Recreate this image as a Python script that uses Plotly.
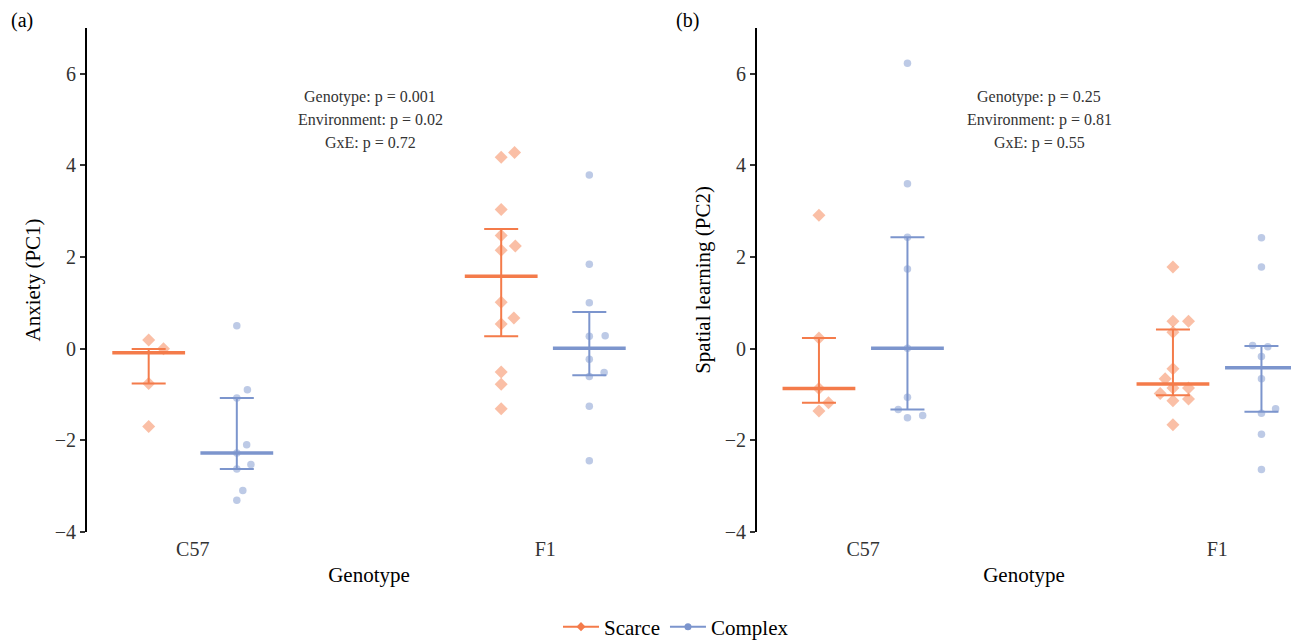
import plotly.graph_objects as go

# the captured viewport is slightly taller than 642 and gets resized to 642,
# so the figure fills that height; paper fractions are based on the 642 reference.
W, H = 1291, 654
REF_H = 642

genotypes = ["C57", "F1"]
groups = ["Scarce", "Complex"]

# ---- Panel (a): Anxiety (PC1) ----
a_scarce_c57 = [0.19, 0.00, -0.76, -1.70]
a_scarce_c57_jit = [0.0, 0.042, 0.0, 0.0]
a_complex_c57 = [0.50, -0.90, -1.08, -2.10, -2.28, -2.53, -2.63, -3.10, -3.31]
a_complex_c57_jit = [0.0, 0.03, 0.0, 0.028, 0.0, 0.04, 0.0, 0.017, 0.0]
a_scarce_f1 = [4.18, 4.28, 3.04, 2.47, 2.24, 2.15, 1.01, 0.67, 0.54, -0.51, -0.78, -1.31]
a_scarce_f1_jit = [0.0, 0.038, 0.0, 0.0, 0.04, 0.0, 0.0, 0.036, 0.0, 0.0, 0.0, 0.0]
a_complex_f1 = [3.79, 1.84, 1.00, 0.27, 0.28, -0.23, -0.52, -0.61, -1.26, -2.45]
a_complex_f1_jit = [0.0, 0.0, 0.0, 0.0, 0.045, 0.0, 0.042, 0.0, 0.0, 0.0]
a_center = {"Scarce": [-0.09, 1.58], "Complex": [-2.28, 0.01]}
a_upper = {"Scarce": [-0.01, 2.61], "Complex": [-1.08, 0.80]}
a_lower = {"Scarce": [-0.76, 0.27], "Complex": [-2.63, -0.58]}
a_stats = ["Genotype: p = 0.001", "Environment: p = 0.02", "GxE: p = 0.72"]

# ---- Panel (b): Spatial learning (PC2) ----
b_scarce_c57 = [2.91, 0.23, -0.87, -1.18, -1.36]
b_scarce_c57_jit = [0.0, 0.0, 0.0, 0.027, 0.0]
b_complex_c57 = [6.23, 3.60, 2.43, 1.74, 0.01, -1.06, -1.33, -1.46, -1.51]
b_complex_c57_jit = [0.0, 0.0, 0.0, 0.0, 0.0, 0.0, -0.026, 0.043, 0.0]
b_scarce_f1 = [1.78, 0.60, 0.60, 0.36, -0.44, -0.66, -0.86, -0.86, -0.98, -1.14, -1.10, -1.66]
b_scarce_f1_jit = [0.0, 0.0, 0.044, 0.0, 0.0, -0.022, 0.0, 0.044, -0.036, 0.0, 0.044, 0.0]
b_complex_f1 = [2.42, 1.78, 0.07, 0.04, -0.17, -0.66, -1.31, -1.41, -1.87, -2.64]
b_complex_f1_jit = [0.0, 0.0, -0.025, 0.018, 0.0, 0.0, 0.04, 0.0, 0.0, 0.0]
b_center = {"Scarce": [-0.87, -0.77], "Complex": [0.01, -0.42]}
b_upper = {"Scarce": [0.23, 0.42], "Complex": [2.43, 0.06]}
b_lower = {"Scarce": [-1.18, -1.02], "Complex": [-1.33, -1.38]}
b_stats = ["Genotype: p = 0.25", "Environment: p = 0.81", "GxE: p = 0.55"]

y_ticks = [-4, -2, 0, 2, 4, 6]

FONT = "Liberation Serif"
col_line = {"Scarce": "#F47B4A", "Complex": "#7C95CD"}
col_pt = {"Scarce": "rgba(246,128,78,0.5)", "Complex": "rgba(124,149,205,0.5)"}
symb = {"Scarce": "diamond", "Complex": "circle"}
psize = {"Scarce": 10, "Complex": 7.5}
dodge = {"Scarce": -0.125, "Complex": 0.125}

fig = go.Figure()


def px2x(p):
    return p / W


def px2y(p):
    return 1 - p / REF_H


panels = [
    dict(xa="x", ya="y", pts={("Scarce", 0): (a_scarce_c57, a_scarce_c57_jit),
                              ("Complex", 0): (a_complex_c57, a_complex_c57_jit),
                              ("Scarce", 1): (a_scarce_f1, a_scarce_f1_jit),
                              ("Complex", 1): (a_complex_f1, a_complex_f1_jit)},
         center=a_center, upper=a_upper, lower=a_lower),
    dict(xa="x2", ya="y2", pts={("Scarce", 0): (b_scarce_c57, b_scarce_c57_jit),
                                ("Complex", 0): (b_complex_c57, b_complex_c57_jit),
                                ("Scarce", 1): (b_scarce_f1, b_scarce_f1_jit),
                                ("Complex", 1): (b_complex_f1, b_complex_f1_jit)},
         center=b_center, upper=b_upper, lower=b_lower),
]

for p in panels:
    for g in groups:
        xs, ys = [], []
        for gi in range(len(genotypes)):
            vals, jit = p["pts"][(g, gi)]
            for v, j in zip(vals, jit):
                xs.append(gi + 1 + dodge[g] + j)
                ys.append(v)
        fig.add_trace(go.Scatter(x=xs, y=ys, mode="markers", xaxis=p["xa"], yaxis=p["ya"],
                                 marker=dict(symbol=symb[g], size=psize[g], color=col_pt[g],
                                             line=dict(width=0)),
                                 showlegend=False, hoverinfo="skip", cliponaxis=False))
        cx = [gi + 1 + dodge[g] for gi in range(len(genotypes))]
        c = p["center"][g]
        up = [u - m for u, m in zip(p["upper"][g], c)]
        lo = [m - l for l, m in zip(p["lower"][g], c)]
        fig.add_trace(go.Scatter(x=cx, y=c, mode="markers", xaxis=p["xa"], yaxis=p["ya"],
                                 marker=dict(symbol="line-ew-open", size=52,
                                             line=dict(width=3.5, color=col_line[g]),
                                             color=col_line[g]),
                                 error_y=dict(type="data", symmetric=False, array=up, arrayminus=lo,
                                              color=col_line[g], thickness=2, width=17),
                                 showlegend=False, hoverinfo="skip", cliponaxis=False))

for g in groups:
    fig.add_trace(go.Scatter(x=[None], y=[None], mode="lines+markers", name=g,
                             line=dict(color=col_line[g], width=2),
                             marker=dict(symbol=symb[g], size=7, color=col_line[g])))

TICKSZ = 20
TITLESZ = 21
y_dom = [px2y(531), px2y(28)]
common_y = dict(range=[-4, 7], tickvals=y_ticks,
                ticktext=[("−" + str(-t)) if t < 0 else str(t) for t in y_ticks],
                showline=True, linecolor="black", linewidth=2, ticks="outside", ticklen=5,
                tickwidth=1.5, tickcolor="#333333", showgrid=False, zeroline=False,
                tickfont=dict(family=FONT, size=TICKSZ, color="#333333"),
                domain=y_dom)
common_x = dict(tickvals=[1, 2], ticktext=genotypes, showline=False, showgrid=False, zeroline=False,
                ticks="", ticklabelstandoff=3, tickfont=dict(family=FONT, size=TICKSZ, color="#333333"),
                title=dict(text="Genotype", font=dict(family=FONT, size=TITLESZ, color="black"),
                           standoff=8))

fig.update_layout(
    width=W, height=H, margin=dict(l=0, r=0, t=0, b=0),
    plot_bgcolor="white", paper_bgcolor="white",
    font=dict(family=FONT, color="black"),
    xaxis=dict(domain=[px2x(87), px2x(651)], range=[0.7, 2.3], anchor="y", **common_x),
    xaxis2=dict(domain=[px2x(757), 1.0], range=[0.7, 0.7 + (1291 - 757) / 354.0],
                anchor="y2", **common_x),
    yaxis=dict(anchor="x", title=dict(text="Anxiety (PC1)", standoff=8,
                                      font=dict(family=FONT, size=TITLESZ, color="black")),
               **common_y),
    yaxis2=dict(anchor="x2", title=dict(text="Spatial learning (PC2)", standoff=8,
                                        font=dict(family=FONT, size=TITLESZ, color="black")),
                **common_y),
    legend=dict(orientation="h", x=px2x(676), xanchor="center", y=px2y(626), yanchor="middle",
                font=dict(family=FONT, size=21, color="black"), itemwidth=36),
)

for i, t in enumerate(a_stats):
    fig.add_annotation(x=px2x(370), y=px2y(97 + 23 * i), xref="paper", yref="paper", text=t,
                       showarrow=False, xanchor="center", yanchor="middle",
                       font=dict(family=FONT, size=16, color="#333333"))
for i, t in enumerate(b_stats):
    fig.add_annotation(x=px2x(1039), y=px2y(97 + 23 * i), xref="paper", yref="paper", text=t,
                       showarrow=False, xanchor="center", yanchor="middle",
                       font=dict(family=FONT, size=16, color="#333333"))

fig.add_annotation(x=px2x(9), y=px2y(20), xref="paper", yref="paper", text="(a)", showarrow=False,
                   xanchor="left", yanchor="middle", font=dict(family=FONT, size=20, color="black"))
fig.add_annotation(x=px2x(674), y=px2y(20), xref="paper", yref="paper", text="(b)", showarrow=False,
                   xanchor="left", yanchor="middle", font=dict(family=FONT, size=20, color="black"))

fig.write_html(
    "out.html",
    config={"displayModeBar": False},
    post_script="document.body.style.margin='0';document.body.style.overflow='hidden';"
                "document.documentElement.style.overflow='hidden';",
)
